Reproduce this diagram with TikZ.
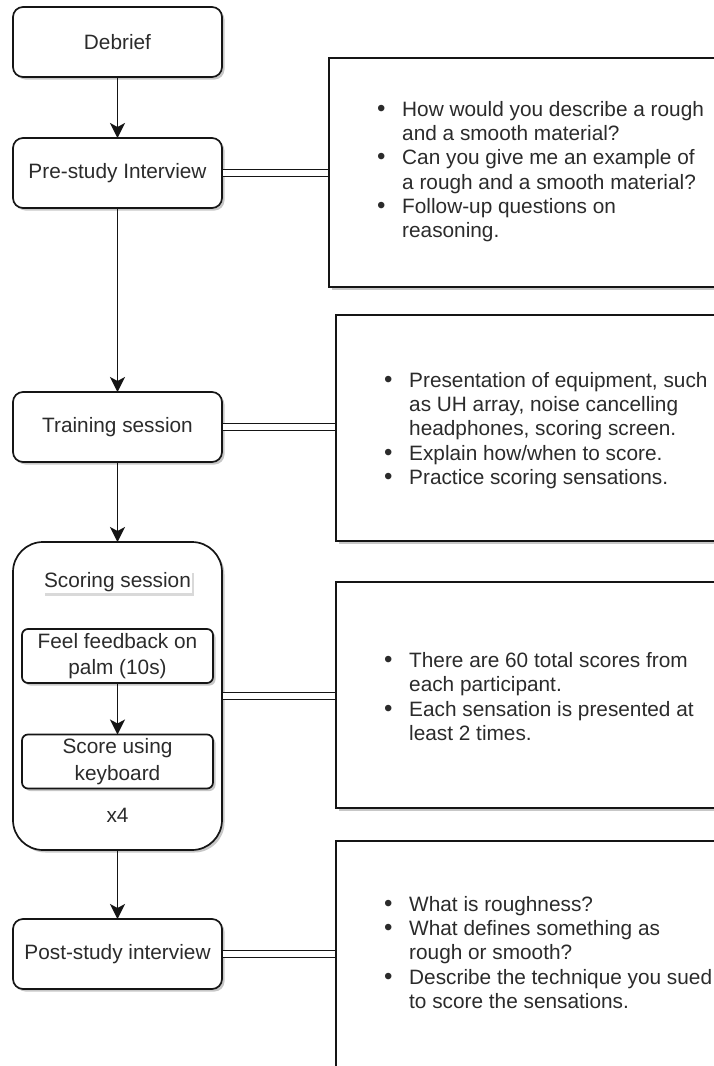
\documentclass[tikz,border=0pt]{standalone}
\usepackage{fontspec}
\setmainfont{Liberation Sans}
\usetikzlibrary{arrows.meta,shadows}
\definecolor{ink}{HTML}{151515}
\definecolor{txt}{HTML}{2B2B2B}
\newcommand{\bl}{\makebox[21pt][l]{\hspace{-4pt}{\fontsize{24}{24}\selectfont\textbullet}}}
\begin{document}
\begin{tikzpicture}[x=1pt,y=-1pt,
  every node/.style={font=\fontsize{20.8}{24.3}\selectfont, text=txt},
  boxshadow/.style={drop shadow={shadow xshift=2.5pt,shadow yshift=-2.5pt,opacity=0.22,fill=black}},
  stage/.style={draw=ink, line width=1.7pt, fill=white, rounded corners=10pt,
    minimum width=209pt, minimum height=70pt, inner sep=0pt, outer sep=0pt, boxshadow},
  substage/.style={draw=ink, line width=1.7pt, fill=white, rounded corners=6pt,
    minimum width=191pt, minimum height=54pt, inner sep=0pt, outer sep=0pt, align=center,
    font=\fontsize{20.8}{26.7}\selectfont, boxshadow},
  group/.style={draw=ink, line width=1.7pt, fill=white, rounded corners=30pt,
    minimum width=209pt, minimum height=308pt, inner sep=0pt, outer sep=0pt, boxshadow},
  info/.style={draw=ink, line width=1.7pt, fill=white, inner sep=0pt, outer sep=0pt, boxshadow},
  list/.style={anchor=west, inner sep=0pt, align=left},
  arr/.style={draw=ink, line width=1.8pt, -{Stealth[length=15pt,width=15pt,inset=4pt]}},
  link/.style={draw=ink, line width=1.5pt, double=white, double distance=5.5pt,
    shorten <=0.85pt, shorten >=0.85pt}
]
\useasboundingbox (0,0) rectangle (714,1066);
\clip (0,0) rectangle (714,1066);
\fill[white] (0,0) rectangle (714,1066);

% right-hand note boxes
\node[info, minimum width=401pt, minimum height=229pt] (n1) at (529.5,172.5) {};
\node[info, minimum width=394pt, minimum height=226pt] (n2) at (533,428) {};
\node[info, minimum width=394pt, minimum height=226pt] (n3) at (533,695) {};
\node[info, minimum width=394pt, minimum height=227pt] (n4) at (533,954.5) {};

% left-hand stages
\node[stage] (deb) at (117.5,42) {Debrief};
\node[stage] (pre) at (117.5,173) {Pre-study Interview};
\node[stage] (train) at (117.5,427) {Training session};
\node[group] (score) at (117.5,696) {};
\node[fill=white, inner sep=1.5pt, drop shadow={shadow xshift=2pt,shadow yshift=-2.5pt,opacity=0.15,fill=black}] (slabel) at (117.5,582) {Scoring session};
\node[substage] (feel) at (117.5,656) {Feel feedback on\\palm (10s)};
\node[substage] (key) at (117.5,761.5) {Score using\\keyboard};
\node (rep) at (117.5,815) {x4};
\node[stage] (post) at (117.5,954) {Post-study interview};

% flow arrows
\draw[arr] (deb) -- (pre);
\draw[arr] (pre) -- (train);
\draw[arr] (train) -- (score);
\draw[arr] (feel) -- (key);
\draw[arr] (score) -- (post);

% links to the notes
\draw[link] (pre.east) -- (pre.east -| n1.west);
\draw[link] (train.east) -- (train.east -| n2.west);
\draw[link] (score.east) -- (score.east -| n3.west);
\draw[link] (post.east) -- (post.east -| n4.west);

% note texts
\node[list] (t1) at (381,172) {\begin{tabular}{@{}l@{}l@{}}
\bl & How would you describe a rough\\
 & and a smooth material?\\
\bl & Can you give me an example of\\
 & a rough and a smooth material?\\
\bl & Follow-up questions on\\
 & reasoning.
\end{tabular}};
\node[list] (t2) at (388,431) {\begin{tabular}{@{}l@{}l@{}}
\bl & Presentation of equipment, such\\
 & as UH array, noise cancelling\\
 & headphones, scoring screen.\\
\bl & Explain how/when to score.\\
\bl & Practice scoring sensations.
\end{tabular}};
\node[list] (t3) at (388,699) {\begin{tabular}{@{}l@{}l@{}}
\bl & There are 60 total scores from\\
 & each participant.\\
\bl & Each sensation is presented at\\
 & least 2 times.
\end{tabular}};
\node[list] (t4) at (388,955) {\begin{tabular}{@{}l@{}l@{}}
\bl & What is roughness?\\
\bl & What defines something as\\
 & rough or smooth?\\
\bl & Describe the technique you sued\\
 & to score the sensations.
\end{tabular}};
\end{tikzpicture}
\end{document}
